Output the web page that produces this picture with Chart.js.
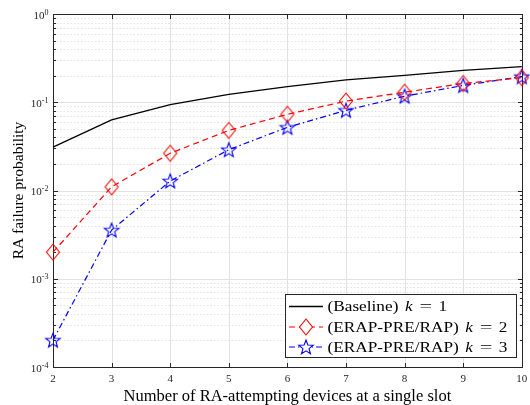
<!DOCTYPE html>
<html><head><meta charset="utf-8">
<script src="https://cdn.jsdelivr.net/npm/chart.js@4"></script>
<style>html,body{margin:0;padding:0;background:#fff}</style>
</head><body>
<canvas id="c" width="530" height="405"></canvas>
<script>
const devices = [2, 3, 4, 5, 6, 7, 8, 9, 10];
const baselineK1 = [0.031, 0.063, 0.094, 0.123, 0.150, 0.179, 0.202, 0.230, 0.253];
const erapK2 = [0.0020, 0.0110, 0.0264, 0.048, 0.073, 0.103, 0.130, 0.163, 0.190];
const erapK3 = [0.000201, 0.00356, 0.0128, 0.029, 0.052, 0.081, 0.117, 0.155, 0.195];
const seriesLabels = ['(Baseline) k = 1', '(ERAP-PRE/RAP) k = 2', '(ERAP-PRE/RAP) k = 3'];
const yDecadeExponents = [-4, -3, -2, -1, 0];
const xTitle = 'Number of RA-attempting devices at a single slot';
const yTitle = 'RA failure probability';

const SERIF = '"Liberation Serif", "Times New Roman", serif';
const AXIS_COLOR = '#262626';

function makeStar(color) {
  const c = document.createElement('canvas');
  c.width = 18; c.height = 18;
  const g = c.getContext('2d');
  g.strokeStyle = color; g.lineWidth = 1.1;
  g.beginPath();
  for (let i = 0; i < 10; i++) {
    const r = i % 2 === 0 ? 7.6 : 3.2;
    const a = -Math.PI / 2 + i * Math.PI / 5;
    const px = 9 + r * Math.cos(a), py = 9.6 + r * Math.sin(a);
    if (i === 0) g.moveTo(px, py); else g.lineTo(px, py);
  }
  g.closePath(); g.stroke();
  return c;
}
function makeDiamond(color) {
  const c = document.createElement('canvas');
  c.width = 16; c.height = 20;
  const g = c.getContext('2d');
  g.strokeStyle = color; g.lineWidth = 1.1;
  g.beginPath();
  g.moveTo(8, 2); g.lineTo(14.5, 10); g.lineTo(8, 18); g.lineTo(1.5, 10); g.closePath();
  g.stroke();
  return c;
}
const starImg = makeStar('#0000ff');
const diamondImg = makeDiamond('#ff0000');

function stretchedText(ctx, text, x, y, font, sx) {
  ctx.save();
  ctx.font = font;
  ctx.translate(x, y);
  ctx.scale(sx, 1);
  ctx.fillText(text, 0, 0);
  const w = ctx.measureText(text).width * sx;
  ctx.restore();
  return w;
}

const framePlugin = {
  id: 'frame',
  beforeDatasetsDraw(chart) {
    const ctx = chart.ctx, a = chart.chartArea;
    const xs = chart.scales.x, ys = chart.scales.y;
    ctx.save();
    ctx.strokeStyle = '#e3e3e3'; ctx.lineWidth = 1; ctx.setLineDash([1.5, 2]);
    for (let e = -4; e < 0; e++) {
      for (let m = 2; m <= 9; m++) {
        const y = Math.round(ys.getPixelForValue(m * Math.pow(10, e))) + 0.5;
        ctx.beginPath(); ctx.moveTo(a.left, y); ctx.lineTo(a.right, y); ctx.stroke();
      }
    }
    ctx.setLineDash([]); ctx.strokeStyle = '#e2e2e2';
    yDecadeExponents.forEach(e => {
      const y = Math.round(ys.getPixelForValue(Math.pow(10, e))) + 0.5;
      ctx.beginPath(); ctx.moveTo(a.left, y); ctx.lineTo(a.right, y); ctx.stroke();
    });
    devices.forEach(v => {
      const x = Math.round(xs.getPixelForValue(v)) + 0.5;
      ctx.beginPath(); ctx.moveTo(x, a.top); ctx.lineTo(x, a.bottom); ctx.stroke();
    });
    ctx.strokeStyle = AXIS_COLOR; ctx.lineWidth = 1;
    const L = Math.round(a.left) + 0.5, R = Math.round(a.right) + 0.5, T = Math.round(a.top) + 0.5, B = Math.round(a.bottom) + 0.5;
    ctx.strokeRect(L, T, R - L, B - T);
    devices.forEach(v => {
      const x = Math.round(xs.getPixelForValue(v)) + 0.5;
      ctx.beginPath(); ctx.moveTo(x, B); ctx.lineTo(x, B - 4.5); ctx.moveTo(x, T); ctx.lineTo(x, T + 4.5); ctx.stroke();
    });
    for (let e = -4; e <= 0; e++) {
      for (let m = 1; m <= 9; m++) {
        if (e === 0 && m > 1) break;
        const y = Math.round(ys.getPixelForValue(m * Math.pow(10, e))) + 0.5;
        const len = m === 1 ? 4.5 : 2.5;
        ctx.beginPath(); ctx.moveTo(L, y); ctx.lineTo(L + len, y); ctx.moveTo(R, y); ctx.lineTo(R - len, y); ctx.stroke();
      }
    }
    ctx.fillStyle = AXIS_COLOR; ctx.textBaseline = 'alphabetic'; ctx.textAlign = 'left';
    yDecadeExponents.forEach(e => {
      const y = ys.getPixelForValue(Math.pow(10, e));
      ctx.font = '8px ' + SERIF;
      const sup = String(e);
      const sw = ctx.measureText(sup).width;
      ctx.font = '11px ' + SERIF;
      const bw = ctx.measureText('10').width;
      const right = 48.5;
      ctx.fillText('10', right - sw - bw, y + 4.5);
      ctx.font = '8px ' + SERIF;
      ctx.fillText(sup, right - sw, y + 0.5);
    });
    ctx.restore();
  },
  afterDatasetsDraw(chart) {
    const ctx = chart.ctx;
    ctx.save();
    const bx = 285.5, by = 294.5, bw = 231, bh = 63;
    ctx.fillStyle = '#fff'; ctx.fillRect(bx, by, bw, bh);
    ctx.strokeStyle = AXIS_COLOR; ctx.lineWidth = 1; ctx.strokeRect(bx, by, bw, bh);
    const rows = [306, 326.5, 346.5];
    const SX = 1.15;
    chart.data.datasets.forEach((ds, i) => {
      const y = rows[i];
      ctx.save();
      ctx.strokeStyle = ds.borderColor; ctx.lineWidth = ds.borderWidth;
      ctx.setLineDash(ds.borderDash || []);
      ctx.beginPath(); ctx.moveTo(289, y + 0.5); ctx.lineTo(323, y + 0.5); ctx.stroke();
      ctx.restore();
      if (ds.pointStyle instanceof HTMLCanvasElement) {
        const img = ds.pointStyle;
        ctx.fillStyle = '#fff';
        ctx.fillRect(306 - 6, y - 6, 12, 12);
        ctx.drawImage(img, 306 - img.width / 2, y + 0.5 - img.height / 2);
      }
      const parts = ds.label.split(' k = ');
      ctx.fillStyle = '#000'; ctx.textBaseline = 'alphabetic'; ctx.textAlign = 'left';
      const base = y + 5;
      let x = 327.5;
      x += stretchedText(ctx, parts[0], x, base, '15px ' + SERIF, SX);
      x += 6.5;
      stretchedText(ctx, 'k', x, base, 'italic 15px ' + SERIF, SX);
      x += 14.5;
      stretchedText(ctx, '=', x, base, '15px ' + SERIF, SX * 1.3);
      x += 19;
      stretchedText(ctx, parts[1], x, base, '15px ' + SERIF, SX);
    });
    ctx.restore();
  }
};

new Chart(document.getElementById('c'), {
  type: 'line',
  data: {
    labels: devices,
    datasets: [
      { label: seriesLabels[0], data: devices.map((d, i) => ({ x: d, y: baselineK1[i] })),
        borderColor: '#000000', borderWidth: 1.3, pointRadius: 0, pointHoverRadius: 0, fill: false, tension: 0, clip: false },
      { label: seriesLabels[1], data: devices.map((d, i) => ({ x: d, y: erapK2[i] })),
        borderColor: '#ff0000', borderWidth: 1.2, borderDash: [6, 4], pointStyle: diamondImg, pointRadius: 7, fill: false, tension: 0, clip: false },
      { label: seriesLabels[2], data: devices.map((d, i) => ({ x: d, y: erapK3[i] })),
        borderColor: '#0000ff', borderWidth: 1.2, borderDash: [6, 3, 1.5, 3], pointStyle: starImg, pointRadius: 7, fill: false, tension: 0, clip: false }
    ]
  },
  options: {
    responsive: false,
    animation: false,
    devicePixelRatio: 1,
    layout: { padding: { top: 14, right: 5, left: 0, bottom: 0 } },
    plugins: { legend: { display: false }, tooltip: { enabled: false } },
    scales: {
      x: {
        type: 'linear', min: 2, max: 10,
        grid: { display: false }, border: { display: false },
        ticks: { stepSize: 1, color: AXIS_COLOR, font: { family: SERIF, size: 11 }, padding: -2, maxRotation: 0 },
        title: { display: true, text: xTitle, color: '#000', font: { family: SERIF, size: 16.5 }, padding: { top: 0, bottom: -2 } },
        afterFit(s) { s.height = 38; }
      },
      y: {
        type: 'logarithmic', min: 1e-4, max: 1,
        grid: { display: false }, border: { display: false },
        ticks: { display: false },
        title: { display: true, text: yTitle, color: '#000', font: { family: SERIF, size: 15.5 }, padding: { top: 10, bottom: 0 } },
        afterFit(s) { s.width = 53; }
      }
    }
  },
  plugins: [framePlugin]
});
</script>
</body></html>
